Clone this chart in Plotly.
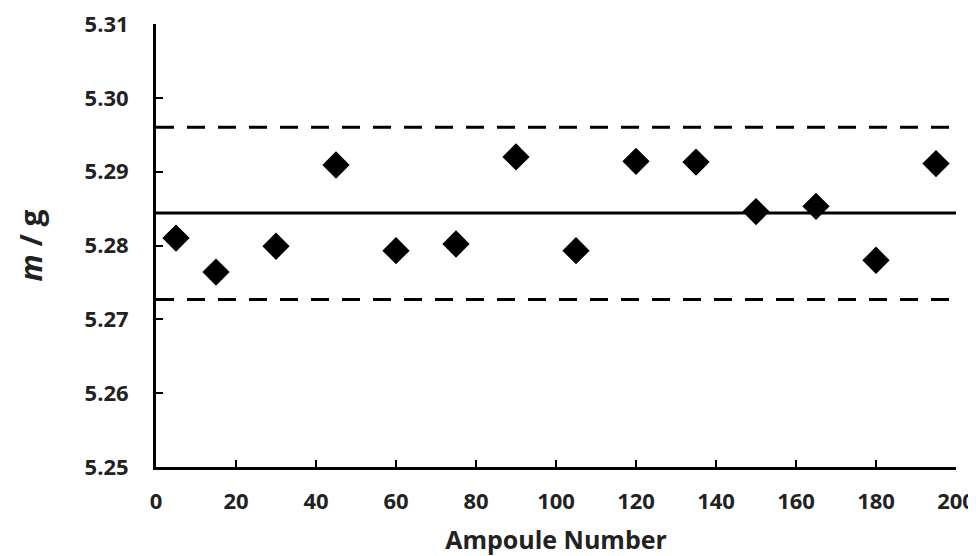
import plotly.graph_objects as go

ampoule = [5, 15, 30, 45, 60, 75, 90, 105, 120, 135, 150, 165, 180, 195]
mass = [5.2810, 5.2764, 5.2799, 5.2909, 5.2793, 5.2802, 5.2920, 5.2793,
        5.2914, 5.2913, 5.2846, 5.2853, 5.2780, 5.2911]
line_x = [0, 200]
mean_val = 5.2844
upper_val = 5.2960
lower_val = 5.2727

x_ticks = list(range(0, 201, 20))
y_ticks = [5.25, 5.26, 5.27, 5.28, 5.29, 5.30, 5.31]
y_tick_text = ["5.25", "5.26", "5.27", "5.28", "5.29", "5.30", "5.31"]

fig = go.Figure()
fig.add_trace(go.Scatter(x=line_x, y=[upper_val, upper_val], mode="lines",
                         line=dict(color="black", width=3, dash="18px,13px"),
                         showlegend=False, hoverinfo="skip"))
fig.add_trace(go.Scatter(x=line_x, y=[lower_val, lower_val], mode="lines",
                         line=dict(color="black", width=3, dash="18px,13px"),
                         showlegend=False, hoverinfo="skip"))
fig.add_trace(go.Scatter(x=line_x, y=[mean_val, mean_val], mode="lines",
                         line=dict(color="black", width=3),
                         showlegend=False, hoverinfo="skip"))
fig.add_trace(go.Scatter(x=ampoule, y=mass, mode="markers",
                         marker=dict(symbol="diamond", size=21, color="black"),
                         showlegend=False, cliponaxis=False))

font_fam = "Open Sans, Lato, sans-serif"
fig.update_layout(
    width=976, height=556,
    margin=dict(l=148, r=28, t=16, b=97),
    paper_bgcolor="white", plot_bgcolor="white",
    font=dict(family=font_fam, color="#222", size=22),
    xaxis=dict(range=[0, 200], tickvals=x_ticks, ticks="inside", ticklen=7,
               tickwidth=2, tickcolor="black", showline=True, linewidth=3,
               linecolor="black", showgrid=False, zeroline=False,
               automargin=False,
               tickfont=dict(size=22, family=font_fam, weight="bold"),
               ticklabelstandoff=13, ticklabeloverflow="allow",
               title=dict(text="Ampoule Number", standoff=18,
                          font=dict(size=25, family=font_fam, weight="bold"))),
    yaxis=dict(range=[5.25, 5.31], tickvals=y_ticks, ticktext=y_tick_text,
               ticks="inside", ticklen=7, tickwidth=2, tickcolor="black",
               showline=True, linewidth=3, linecolor="black", showgrid=False,
               zeroline=False, ticklabeloverflow="allow", automargin=False,
               tickfont=dict(size=22, family=font_fam, weight="bold"),
               ticklabelstandoff=20,
               title=dict(text="<i>m</i> / g", standoff=34,
                          font=dict(size=30, family=font_fam, weight="bold"))),
)
fig.write_html("out.html")
